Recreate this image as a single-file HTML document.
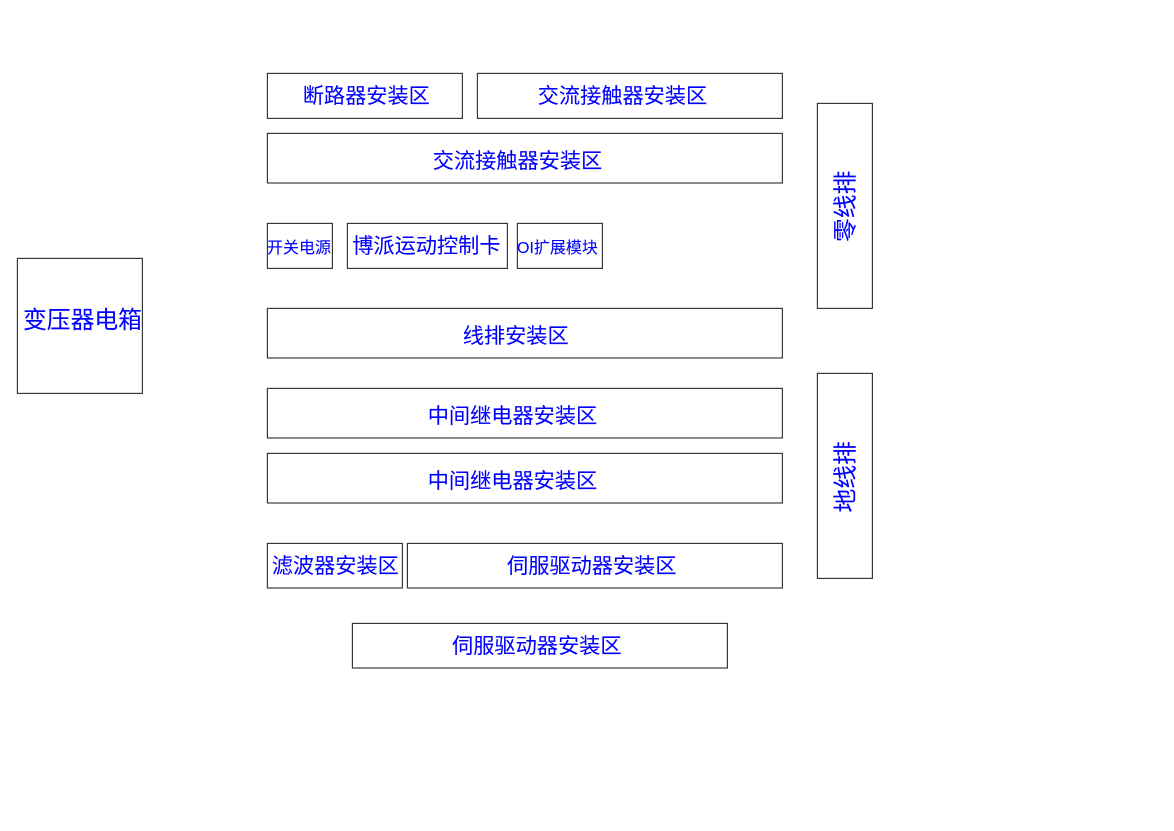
<!DOCTYPE html>
<html lang="zh">
<head>
<meta charset="utf-8">
<style>
html,body{margin:0;padding:0;background:#fff;width:1174px;height:831px;overflow:hidden}
svg{display:block}
text{font-family:"Liberation Sans","WenQuanYi Zen Hei","Noto Sans CJK SC",sans-serif;fill:#0000ff;stroke:#0000ff;stroke-width:.08}
rect{fill:#fff;stroke:#333;stroke-width:1.15}
</style>
</head>
<body>
<svg width="1174" height="831" viewBox="0 0 1174 831" xmlns="http://www.w3.org/2000/svg">
<rect x="267.400" y="73.400" width="195" height="45"/>
<rect x="477.400" y="73.400" width="305" height="45"/>
<rect x="267.400" y="133.400" width="515" height="49.600"/>
<rect x="267.400" y="223.400" width="65" height="45"/>
<rect x="347.400" y="223.400" width="160" height="45"/>
<rect x="517.400" y="223.400" width="85" height="45"/>
<rect x="17.400" y="258.400" width="125" height="135"/>
<rect x="267.400" y="308.400" width="515" height="49.600"/>
<rect x="267.400" y="388.400" width="515" height="49.600"/>
<rect x="267.400" y="453.400" width="515" height="49.600"/>
<rect x="267.400" y="543.400" width="135" height="44.600"/>
<rect x="407.400" y="543.400" width="375" height="44.600"/>
<rect x="352.400" y="623.400" width="375" height="44.600"/>
<rect x="817.400" y="103.400" width="55" height="205"/>
<rect x="817.400" y="373.400" width="55" height="205"/>

<text x="302.700" y="103" font-size="21.200">断路器安装区</text>
<text x="537.700" y="103" font-size="21.200">交流接触器安装区</text>
<text x="432.700" y="168" font-size="21.200">交流接触器安装区</text>
<text x="267" y="253" font-size="16">开关电源</text>
<text x="352.200" y="253" font-size="21.200">博派运动控制卡</text>
<text x="517" y="253" font-size="16">OI扩展模块</text>
<text x="23" y="328" font-size="23.800">变压器电箱</text>
<text x="462.700" y="343" font-size="21.200">线排安装区</text>
<text x="427.700" y="423" font-size="21.200">中间继电器安装区</text>
<text x="427.700" y="488" font-size="21.200">中间继电器安装区</text>
<text x="271.700" y="573" font-size="21.200">滤波器安装区</text>
<text x="507" y="573" font-size="21.200">伺服驱动器安装区</text>
<text x="452" y="653" font-size="21.200">伺服驱动器安装区</text>
<text transform="translate(853.500,242) rotate(-90)" font-size="23.800">零线排</text>
<text transform="translate(853.500,512.500) rotate(-90)" font-size="23.800">地线排</text>
</svg>
</body>
</html>
